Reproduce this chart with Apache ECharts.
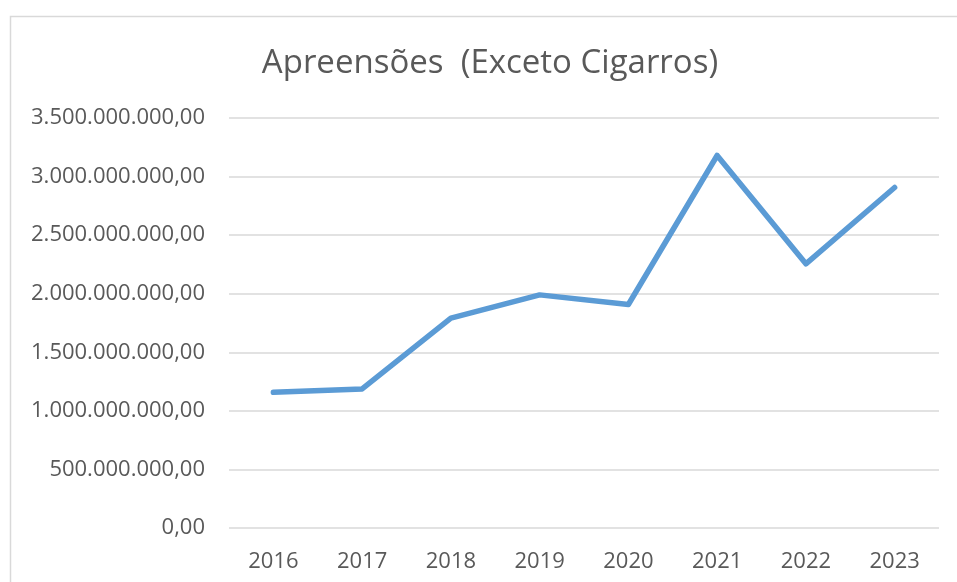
<!DOCTYPE html>
<html>
<head>
<meta charset="utf-8">
<script src="https://cdn.jsdelivr.net/npm/echarts@6/dist/echarts.min.js"></script>
<style>
html,body{margin:0;padding:0;background:#fff;}
#chart{width:957px;height:582px;}
</style>
</head>
<body>
<div id="chart"></div>
<script>
const titleText = 'Apreensões  (Exceto Cigarros)';
const years = ['2016','2017','2018','2019','2020','2021','2022','2023'];
const seizures = [1158000000, 1187000000, 1791000000, 1990000000, 1908000000, 3180000000, 2255000000, 2907000000];
const yMin = 0;
const yMax = 3500000000;
const yStep = 500000000;

function fmtBR(v){
  const s = Math.round(v).toString().replace(/\B(?=(\d{3})+(?!\d))/g, '.');
  return s + ',00';
}

const chart = echarts.init(document.getElementById('chart'), null, {renderer:'canvas'});
chart.setOption({
  backgroundColor:'#ffffff',
  animation:false,
  graphic:[{
    type:'rect',
    shape:{x:10.5, y:16.5, width:960, height:600},
    style:{fill:'none', stroke:'#d9d9d9', lineWidth:1.5},
    silent:true
  }],
  title:{
    text:titleText,
    left:'485',
    textAlign:'center',
    top:42,
    textStyle:{fontFamily:'Open Sans', fontSize:33, fontWeight:'normal', color:'#595959'}
  },
  grid:{left:229, right:18, top:118, bottom:54, containLabel:false},
  xAxis:{
    type:'category',
    data:years,
    boundaryGap:true,
    axisLine:{show:false},
    axisTick:{show:false},
    axisLabel:{margin:23, fontFamily:'Open Sans', fontSize:22, color:'#595959'}
  },
  yAxis:{
    type:'value',
    min:yMin, max:yMax, interval:yStep,
    axisLine:{show:false},
    axisTick:{show:false},
    splitLine:{lineStyle:{color:'#d9d9d9', width:1.5}},
    axisLabel:{margin:24, fontFamily:'Open Sans', fontSize:22, color:'#595959', formatter:fmtBR}
  },
  series:[{
    type:'line',
    data:seizures,
    showSymbol:false,
    symbol:'none',
    lineStyle:{color:'#5b9bd5', width:5.5, cap:'round', join:'round'},
    itemStyle:{color:'#5b9bd5'}
  }]
});
</script>
</body>
</html>
